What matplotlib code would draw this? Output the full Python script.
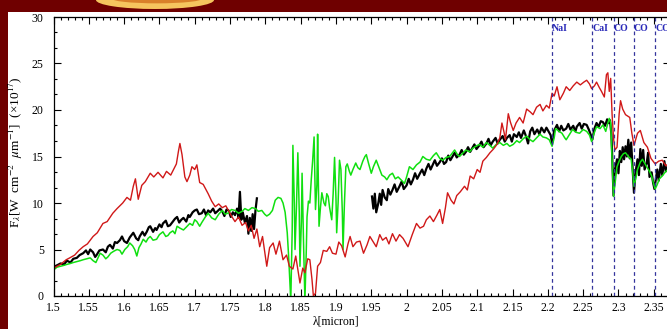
import matplotlib
matplotlib.use('Agg')
import matplotlib.pyplot as plt
import numpy as np
from matplotlib.patches import Rectangle, Ellipse
from matplotlib.ticker import MultipleLocator, AutoMinorLocator, FormatStrFormatter

plt.rcParams['font.family'] = 'serif'
plt.rcParams['font.serif'] = ['Liberation Serif', 'DejaVu Serif']
plt.rcParams['mathtext.fontset'] = 'stix'

# espectro rojo
red_x = [1.500, 1.510, 1.518, 1.523, 1.530, 1.536, 1.542, 1.548, 1.556, 1.562,
         1.570, 1.576, 1.584, 1.590, 1.598, 1.604, 1.609, 1.613, 1.616, 1.620,
         1.625, 1.630, 1.637, 1.642, 1.648, 1.655, 1.660, 1.666, 1.670, 1.674,
         1.677, 1.679, 1.682, 1.686, 1.689, 1.693, 1.696, 1.700, 1.703, 1.707,
         1.712, 1.719, 1.724, 1.729, 1.734, 1.739, 1.744, 1.747, 1.752, 1.757,
         1.762, 1.767, 1.772, 1.776, 1.780, 1.784, 1.788, 1.792, 1.796, 1.802,
         1.806, 1.811, 1.815, 1.820, 1.825, 1.830, 1.834, 1.839, 1.843, 1.849,
         1.853, 1.856, 1.860, 1.863, 1.866, 1.868, 1.871, 1.874, 1.878, 1.882,
         1.887, 1.891, 1.895, 1.900, 1.904, 1.908, 1.913, 1.917, 1.920, 1.924,
         1.929, 1.934, 1.939, 1.944, 1.948, 1.953, 1.957, 1.962, 1.966, 1.971,
         1.975, 1.980, 1.985, 1.990, 1.995, 2.002, 2.008, 2.014, 2.019, 2.024,
         2.028, 2.033, 2.038, 2.043, 2.047, 2.051, 2.055, 2.058, 2.063, 2.067,
         2.071, 2.076, 2.082, 2.086, 2.090, 2.095, 2.100, 2.104, 2.108, 2.113,
         2.118, 2.123, 2.128, 2.132, 2.135, 2.138, 2.140, 2.144, 2.147, 2.151,
         2.155, 2.160, 2.165, 2.170, 2.175, 2.179, 2.184, 2.189, 2.193, 2.198,
         2.202, 2.206, 2.209, 2.213, 2.217, 2.222, 2.226, 2.231, 2.236, 2.241,
         2.246, 2.251, 2.255, 2.259, 2.262, 2.266, 2.269, 2.273, 2.276, 2.280,
         2.283, 2.285, 2.287, 2.289, 2.291, 2.293, 2.295, 2.298, 2.301, 2.303,
         2.306, 2.310, 2.316, 2.319, 2.322, 2.327, 2.331, 2.336, 2.341, 2.346,
         2.352, 2.357, 2.362, 2.367, 2.373]
red_y = [3.0, 3.4, 3.9, 4.1, 4.4, 4.9, 5.3, 5.6, 6.4, 6.8,
         7.8, 8.0, 8.9, 9.4, 10.0, 10.6, 10.3, 11.8, 12.6, 10.4,
         11.9, 12.3, 13.2, 12.8, 13.3, 12.7, 13.4, 13.0, 13.6, 14.2,
         15.6, 16.4, 15.2, 12.8, 12.3, 13.0, 13.9, 13.6, 14.1, 12.2,
         12.0, 11.0, 10.2, 9.6, 9.9, 9.5, 9.7, 9.3, 8.6, 8.0,
         8.5, 7.6, 7.9, 7.0, 7.6, 6.2, 7.2, 5.3, 6.4, 3.2,
         5.2, 5.7, 4.5, 5.9, 3.9, 4.4, 3.2, 2.9, 4.3, 1.4,
         3.0, 2.5, 4.0, 3.9, 1.8, 0.0, 0.3, 3.2, 3.6, 4.9,
         4.8, 5.3, 4.6, 4.5, 5.8, 5.4, 4.2, 5.6, 6.4, 5.3,
         5.8, 5.9, 4.6, 5.5, 6.4, 5.8, 5.3, 6.6, 6.0, 6.3,
         5.6, 6.7, 5.9, 6.6, 6.2, 5.3, 6.6, 7.8, 7.3, 7.5,
         8.2, 8.6, 8.0, 8.7, 9.3, 7.8, 9.5, 11.1, 10.3, 9.9,
         10.8, 11.2, 11.8, 11.4, 12.9, 12.6, 13.6, 13.3, 14.5, 14.9,
         15.4, 15.8, 16.3, 17.0, 18.6, 17.6, 16.8, 19.6, 18.7, 17.8,
         18.6, 19.2, 18.6, 20.1, 19.8, 19.5, 20.3, 20.6, 19.9, 20.5,
         20.2, 21.8, 21.5, 22.5, 21.1, 21.8, 22.5, 22.1, 22.6, 23.0,
         22.7, 23.0, 23.2, 22.8, 22.3, 22.6, 23.0, 22.4, 22.0, 21.4,
         23.8, 24.0, 22.0, 23.4, 19.5, 17.0, 15.7, 16.0, 19.6, 21.0,
         20.1, 19.5, 19.2, 17.5, 16.2, 17.5, 17.8, 16.5, 16.0, 14.8,
         14.2, 14.5, 14.6, 14.0, 14.4]

# espectro negro, banda H y banda K
black_h_x = [1.500, 1.505, 1.510, 1.515, 1.519, 1.524, 1.528, 1.533, 1.537, 1.542,
             1.546, 1.549, 1.552, 1.556, 1.559, 1.561, 1.565, 1.570, 1.574, 1.577,
             1.580, 1.584, 1.587, 1.590, 1.594, 1.597, 1.600, 1.604, 1.608, 1.611,
             1.613, 1.617, 1.620, 1.622, 1.626, 1.629, 1.632, 1.635, 1.637, 1.641,
             1.644, 1.646, 1.650, 1.653, 1.655, 1.659, 1.662, 1.665, 1.669, 1.672,
             1.675, 1.678, 1.681, 1.684, 1.688, 1.691, 1.693, 1.697, 1.700, 1.703,
             1.706, 1.710, 1.713, 1.716, 1.719, 1.722, 1.726, 1.729, 1.732, 1.736,
             1.739, 1.742, 1.745, 1.748, 1.751, 1.754, 1.757, 1.760, 1.762, 1.764,
             1.766, 1.768, 1.771, 1.774, 1.776, 1.778, 1.780, 1.782, 1.784, 1.786,
             1.788]
black_h_y = [3.1, 3.3, 3.5, 3.4, 3.8, 3.6, 4.0, 4.1, 4.4, 4.6,
             4.9, 4.5, 5.0, 4.7, 4.2, 4.4, 4.9, 5.0, 4.7, 5.3,
             5.5, 5.1, 5.8, 5.7, 6.0, 6.4, 5.9, 5.7, 6.3, 6.6,
             6.8, 6.2, 6.0, 6.4, 6.9, 6.5, 6.9, 7.4, 7.5, 6.9,
             7.3, 7.1, 7.7, 7.4, 7.8, 8.1, 7.5, 7.6, 8.0, 8.3,
             8.5, 7.9, 8.2, 8.4, 8.0, 8.7, 8.5, 9.0, 9.2, 9.3,
             8.8, 8.9, 9.3, 8.7, 9.2, 9.0, 9.4, 8.9, 9.1, 9.4,
             9.1, 8.6, 9.3, 9.2, 8.5, 9.0, 8.7, 9.4, 8.4, 11.2,
             8.2, 9.0, 7.9, 8.6, 6.7, 8.4, 7.0, 8.8, 7.2, 9.2,
             10.5]
black_k_x = [1.951, 1.953, 1.955, 1.957, 1.960, 1.962, 1.964, 1.966, 1.969, 1.972,
             1.974, 1.977, 1.980, 1.983, 1.986, 1.990, 1.993, 1.996, 2.000, 2.003,
             2.006, 2.009, 2.012, 2.015, 2.019, 2.022, 2.025, 2.028, 2.031, 2.034,
             2.037, 2.040, 2.043, 2.047, 2.050, 2.053, 2.056, 2.059, 2.062, 2.065,
             2.068, 2.071, 2.075, 2.078, 2.081, 2.084, 2.087, 2.090, 2.093, 2.096,
             2.099, 2.103, 2.106, 2.109, 2.113, 2.116, 2.119, 2.122, 2.126, 2.129,
             2.132, 2.136, 2.139, 2.142, 2.146, 2.149, 2.152, 2.156, 2.159, 2.162,
             2.166, 2.169, 2.172, 2.175, 2.178, 2.181, 2.185, 2.188, 2.191, 2.195,
             2.198, 2.201, 2.204, 2.206, 2.209, 2.213, 2.216, 2.219, 2.222, 2.226,
             2.229, 2.232, 2.236, 2.239, 2.241, 2.245, 2.248, 2.251, 2.255, 2.258,
             2.261, 2.263, 2.266, 2.269, 2.272, 2.275, 2.278, 2.281, 2.284, 2.286,
             2.288, 2.290, 2.291, 2.293, 2.295, 2.298, 2.300, 2.302, 2.304, 2.306,
             2.308, 2.310, 2.312, 2.314, 2.316, 2.318, 2.320, 2.322, 2.324, 2.327,
             2.329, 2.331, 2.333, 2.335, 2.337, 2.340, 2.342, 2.344, 2.347, 2.349,
             2.351, 2.353, 2.355, 2.357, 2.360, 2.362, 2.365, 2.367, 2.370, 2.373]
black_k_y = [10.7, 9.4, 11.0, 9.0, 10.0, 11.0, 9.8, 11.4, 10.6, 10.3,
             11.5, 10.9, 11.4, 12.0, 11.2, 11.8, 12.3, 11.5, 11.9, 12.6,
             12.0, 12.5, 13.2, 12.6, 13.2, 13.6, 13.0, 13.7, 14.2, 13.6,
             14.1, 14.6, 14.0, 14.4, 14.8, 14.2, 14.4, 15.1, 14.6, 15.0,
             15.4, 14.9, 15.2, 15.7, 15.2, 15.5, 16.0, 15.5, 15.9, 16.3,
             15.8, 16.2, 16.6, 16.0, 16.4, 16.9, 16.2, 16.6, 17.0, 16.4,
             16.8, 17.2, 16.6, 17.0, 17.3, 16.6, 17.4, 17.1, 17.6, 17.0,
             17.8, 17.2, 16.4, 17.7, 18.1, 17.4, 17.9, 17.4, 18.1, 17.6,
             18.1, 17.7, 17.3, 16.4, 17.8, 18.4, 17.7, 18.3, 17.8, 18.0,
             18.5, 17.9, 18.3, 17.7, 18.2, 18.6, 18.0, 18.5, 18.4, 17.9,
             17.3, 16.8, 18.0, 18.6, 18.2, 18.8, 18.7, 18.3, 19.0, 18.6,
             18.9, 17.4, 15.4, 10.8, 13.6, 14.7, 13.2, 15.6, 14.4, 16.0,
             14.7, 16.1, 15.0, 16.8, 14.8, 16.5, 13.8, 11.1, 13.2, 14.7,
             13.0, 15.8, 14.0, 15.7, 13.6, 14.3, 15.4, 12.8, 13.3, 12.2,
             11.5, 12.6, 13.6, 12.4, 14.2, 13.0, 14.5, 13.4, 14.0, 13.7]

# espectro verde
green_x = [1.500, 1.505, 1.510, 1.515, 1.519, 1.524, 1.528, 1.533, 1.538, 1.542,
           1.547, 1.552, 1.556, 1.560, 1.563, 1.566, 1.570, 1.574, 1.577, 1.581,
           1.585, 1.590, 1.594, 1.597, 1.601, 1.605, 1.608, 1.612, 1.615, 1.618,
           1.621, 1.624, 1.627, 1.631, 1.634, 1.637, 1.641, 1.646, 1.650, 1.655,
           1.659, 1.662, 1.665, 1.669, 1.672, 1.675, 1.679, 1.684, 1.688, 1.693,
           1.697, 1.700, 1.703, 1.707, 1.710, 1.715, 1.719, 1.724, 1.729, 1.734,
           1.739, 1.743, 1.747, 1.752, 1.757, 1.762, 1.767, 1.771, 1.776, 1.781,
           1.786, 1.790, 1.795, 1.799, 1.802, 1.806, 1.810, 1.814, 1.818, 1.822,
           1.825, 1.828, 1.831, 1.833, 1.836, 1.838, 1.839, 1.841, 1.842, 1.844,
           1.846, 1.848, 1.849, 1.851, 1.852, 1.854, 1.856, 1.858, 1.859, 1.861,
           1.863, 1.865, 1.867, 1.869, 1.871, 1.873, 1.874, 1.876, 1.878, 1.880,
           1.883, 1.885, 1.887, 1.889, 1.891, 1.894, 1.896, 1.898, 1.900, 1.901,
           1.903, 1.905, 1.907, 1.909, 1.910, 1.912, 1.914, 1.916, 1.919, 1.921,
           1.924, 1.928, 1.931, 1.934, 1.938, 1.941, 1.943, 1.946, 1.950, 1.953,
           1.957, 1.961, 1.965, 1.969, 1.972, 1.976, 1.980, 1.984, 1.988, 1.992,
           1.997, 2.000, 2.004, 2.009, 2.014, 2.019, 2.023, 2.028, 2.033, 2.038,
           2.042, 2.047, 2.051, 2.056, 2.061, 2.065, 2.068, 2.072, 2.075, 2.080,
           2.084, 2.089, 2.094, 2.098, 2.103, 2.108, 2.113, 2.118, 2.122, 2.127,
           2.132, 2.137, 2.142, 2.146, 2.151, 2.156, 2.160, 2.165, 2.170, 2.175,
           2.179, 2.184, 2.189, 2.193, 2.198, 2.202, 2.206, 2.209, 2.211, 2.216,
           2.220, 2.224, 2.226, 2.231, 2.235, 2.240, 2.245, 2.250, 2.255, 2.259,
           2.262, 2.265, 2.269, 2.274, 2.278, 2.282, 2.285, 2.287, 2.289, 2.291,
           2.293, 2.295, 2.298, 2.301, 2.304, 2.307, 2.310, 2.314, 2.318, 2.320,
           2.322, 2.325, 2.327, 2.331, 2.334, 2.337, 2.340, 2.344, 2.347, 2.350,
           2.352, 2.355, 2.358, 2.362, 2.366, 2.370, 2.373]
green_y = [2.8, 3.1, 3.2, 3.3, 3.4, 3.5, 3.6, 3.7, 3.8, 3.9,
           4.0, 4.1, 3.8, 3.6, 4.1, 4.6, 4.4, 4.0, 4.2, 4.6,
           4.8, 5.0, 4.9, 4.5, 5.0, 5.3, 5.7, 5.4, 5.0, 4.3,
           5.2, 5.6, 6.1, 5.8, 6.2, 6.4, 6.0, 6.1, 6.6, 6.9,
           6.4, 6.5, 6.8, 7.0, 6.7, 7.5, 7.3, 7.1, 7.4, 7.8,
           7.6, 8.2, 8.0, 7.5, 7.9, 8.5, 8.9, 8.4, 8.2, 8.8,
           9.2, 8.8, 8.9, 9.3, 9.2, 8.9, 9.1, 9.4, 9.2, 9.5,
           9.4, 9.1, 9.2, 8.8, 8.6, 8.8, 9.2, 10.3, 10.6, 10.5,
           10.0, 9.0, 6.8, 4.2, -0.5, 7.0, 16.2, 10.0, 5.0, 9.5,
           15.4, 9.0, 3.2, 8.0, 13.2, 6.0, -0.5, 5.0, 8.5, 10.2,
           10.0, 12.5, 14.6, 17.1, 9.3, 12.0, 17.4, 7.5, 9.5, 11.1,
           10.0, 9.7, 11.0, 10.7, 9.5, 8.2, 11.0, 14.9, 10.5, 6.8,
           10.0, 14.6, 13.6, 9.0, 5.0, 10.0, 13.9, 14.2, 13.4, 13.0,
           13.6, 14.3, 13.8, 13.6, 14.5, 15.0, 15.2, 14.3, 13.2, 13.9,
           14.6, 13.8, 13.0, 12.8, 12.5, 13.0, 13.2, 12.6, 12.8, 12.5,
           12.1, 12.8, 13.9, 13.6, 14.1, 14.4, 15.0, 14.7, 14.6, 15.1,
           15.4, 14.8, 14.6, 14.9, 15.0, 15.4, 15.7, 15.2, 15.0, 15.4,
           15.7, 15.5, 15.9, 16.1, 16.3, 16.0, 16.5, 16.2, 15.9, 16.3,
           16.5, 16.2, 16.4, 16.1, 16.3, 16.7, 16.5, 16.9, 17.2, 16.8,
           16.6, 17.0, 17.4, 17.1, 17.0, 16.8, 16.1, 17.0, 18.0, 17.7,
           17.5, 17.0, 16.8, 17.4, 17.9, 17.6, 17.5, 17.9, 17.7, 17.3,
           16.6, 17.4, 18.2, 18.0, 18.4, 17.7, 18.6, 19.1, 18.6, 14.6,
           10.7, 12.0, 13.9, 14.5, 15.0, 15.3, 15.4, 15.0, 14.7, 13.4,
           11.8, 12.8, 13.6, 14.4, 14.7, 14.3, 13.9, 13.4, 12.9, 12.0,
           11.5, 12.0, 12.6, 12.9, 13.3, 13.6, 13.5]

# lineas de absorcion
lineas_x = [2.206, 2.263, 2.293, 2.322, 2.352]
lineas_nombre = ['NaI', 'CaI', 'CO', 'CO', 'CO']

fig = plt.figure(figsize=(6.67, 3.29), dpi=100, facecolor='#6f0000')

# fondo blanco de la diapositiva y adorno superior
fig.add_artist(Rectangle((8 / 667, 0), 1, 317 / 329, transform=fig.transFigure,
                         facecolor='white', edgecolor='none', zorder=-2))
fig.add_artist(Ellipse((155 / 667, 1.0), 118 / 667, 18 / 329, transform=fig.transFigure,
                       facecolor='#f6c45e', edgecolor='none', zorder=-1))
fig.add_artist(Ellipse((157 / 667, 1.005), 92 / 667, 10 / 329, transform=fig.transFigure,
                       facecolor='#d9802a', edgecolor='none', zorder=-1))

ax = fig.add_axes([53.5 / 667, 33 / 329, 616.5 / 667, 279 / 329])

ax.plot(black_h_x, black_h_y, color='black', lw=1.6)
ax.plot(black_k_x, black_k_y, color='black', lw=1.6)
ax.plot(green_x, green_y, color='#10e010', lw=1.1)
ax.plot(red_x, red_y, color='#d01818', lw=1.0)

for xl, nombre in zip(lineas_x, lineas_nombre):
    ax.axvline(xl, color='#34349c', lw=0.9, ls=(0, (3, 2.5)))
    ax.text(xl, 29.2, nombre, ha='left', va='top', fontsize=7, fontweight='bold',
            color='#2828b8')

ax.set_xlim(1.5, 2.373)
ax.set_ylim(0, 30)

ax.xaxis.set_major_locator(MultipleLocator(0.05))
ax.xaxis.set_minor_locator(MultipleLocator(0.01))
ax.xaxis.set_major_formatter(FormatStrFormatter('%g'))
ax.yaxis.set_major_locator(MultipleLocator(5))
ax.yaxis.set_minor_locator(AutoMinorLocator(3))
ax.tick_params(which='both', direction='in', top=True, right=True, labelsize=8.5, width=0.8)
ax.tick_params(which='major', length=5, pad=4)
ax.tick_params(which='minor', length=2.5)
ax.tick_params(axis='y', pad=7)
for s in ax.spines.values():
    s.set_linewidth(0.9)

ax.set_xlabel('λ[micron]', fontsize=8.5)
ax.xaxis.set_label_coords(0.458, -0.07)
ax.set_ylabel(r'F$_\lambda$[W  cm$^{-2}$  $\mu$m$^{-1}$]  (×10$^{17}$)', fontsize=9.5)
ax.yaxis.set_label_coords(-0.046, 0.515)

fig.savefig('out.png', dpi=100, facecolor=fig.get_facecolor())
